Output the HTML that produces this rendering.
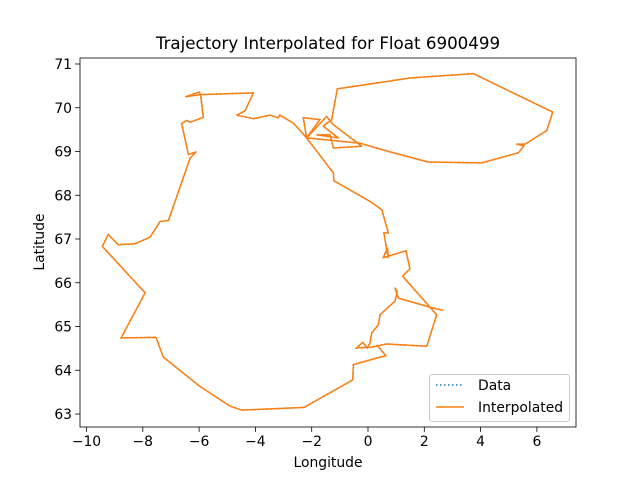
<!DOCTYPE html>
<html><head><meta charset="utf-8"><style>
html,body{margin:0;padding:0;background:#fff;}
svg{display:block;font-family:"DejaVu Sans","Liberation Sans",sans-serif;}
</style></head><body>
<svg id="chart" width="640" height="480" viewBox="0 0 640 480" xmlns="http://www.w3.org/2000/svg">
<rect width="640" height="480" fill="#fff"/>
<text x="328" y="49" font-size="16.7" text-anchor="middle">Trajectory Interpolated for Float 6900499</text>
<g id="plot"></g>
<g id="axes"></g>
<text x="328" y="467" font-size="13.9" text-anchor="middle">Longitude</text>
<text transform="translate(44,242) rotate(-90)" font-size="13.9" text-anchor="middle">Latitude</text>
<g>
<rect x="429.5" y="374.5" width="140" height="47" rx="3" fill="#fff" fill-opacity="0.8" stroke="#ccc"/>
<line x1="436" y1="385" x2="464" y2="385" stroke="#1f77b4" stroke-width="1.5" stroke-dasharray="1.5,2.5"/>
<text x="478" y="390" font-size="13.9">Data</text>
<line x1="436" y1="407" x2="464" y2="407" stroke="#ff7f0e" stroke-width="1.5"/>
<text x="478" y="412" font-size="13.9">Interpolated</text>
</g>
</svg>
<script>
const lon = [0.31,0.64,0.43,-0.52,-0.54,-2.27,-4.49,-4.90,-5.97,-7.27,-7.53,-8.77,-7.92,-9.44,-9.23,-8.87,-8.28,-7.74,-7.39,-7.09,-6.32,-6.11,-6.38,-6.62,-6.44,-6.32,-5.85,-5.94,-5.99,-6.48,-5.97,-4.07,-4.37,-4.66,-4.07,-3.48,-3.19,-3.13,-2.65,-2.18,
-2.30,-1.71,-2.18,-1.47,-1.23,-0.22,-1.23,-1.35,-1.82,-1.06,-1.59,-1.29,-1.09,1.49,3.74,6.56,6.35,5.58,5.28,5.54,5.34,4.04,2.14,0.78,-0.28,-2.18,
-1.23,-1.21,0.07,0.49,0.72,0.57,0.66,0.72,0.69,0.54,0.72,1.35,1.49,1.23,2.44,2.09,0.66,0.13,-0.40,-0.19,-0.02,0.07,0.13,0.37,0.43,0.96,1.04,0.96,1.08,2.32,2.67];
const lat = [64.58,64.33,64.30,64.13,63.78,63.15,63.09,63.18,63.63,64.30,64.75,64.74,65.77,66.83,67.10,66.87,66.89,67.04,67.40,67.42,68.85,68.99,68.93,69.64,69.71,69.67,69.78,70.26,70.36,70.25,70.30,70.34,69.93,69.83,69.75,69.83,69.77,69.83,69.65,69.31,
69.77,69.73,69.31,69.80,69.61,69.12,69.08,69.38,69.38,69.31,69.58,69.73,70.43,70.68,70.78,69.90,69.48,69.17,69.17,69.13,68.97,68.74,68.76,68.99,69.19,69.31,
68.51,68.33,67.86,67.67,67.14,67.14,66.76,66.57,66.79,66.57,66.61,66.73,66.32,66.15,65.27,64.55,64.60,64.53,64.51,64.64,64.51,64.62,64.85,65.04,65.27,65.58,65.79,65.88,65.65,65.42,65.37];
const xTicks = [-10,-8,-6,-4,-2,0,2,4,6];
const yTicks = [63,64,65,66,67,68,69,70,71];

const L=80,R=576,T=58,B=427;
const xs = v => 368 + v*28.15;
const ys = v => 64 + (71-v)*43.75;
const NS="http://www.w3.org/2000/svg";
const plot=document.getElementById('plot'), axes=document.getElementById('axes');
function mk(tag,attrs,parent){const e=document.createElementNS(NS,tag);for(const k in attrs)e.setAttribute(k,attrs[k]);parent.appendChild(e);return e;}

const pts = lon.map((v,i)=>xs(v).toFixed(1)+','+ys(lat[i]).toFixed(1)).join(' ');
const dataLine = mk('polyline',{points:pts,fill:'none',stroke:'#1f77b4','stroke-width':1.5,'stroke-dasharray':'1.5,2.5'},plot);


const interpLine = mk('polyline',{points:pts,fill:'none',stroke:'#ff7f0e','stroke-width':1.5,'stroke-linejoin':'round'},plot);



const frame = mk('rect',{x:L,y:T,width:R-L,height:B-T,fill:'none',stroke:'#000','stroke-width':0.8},axes);



xTicks.forEach(t=>{
  const x=xs(t);
  const tk=mk('line',{x1:x,y1:B,x2:x,y2:B+4.9,stroke:'#000','stroke-width':0.8},axes);
  
  
  const lb=mk('text',{x:x,y:B+19,'font-size':13.9,'text-anchor':'middle'},axes);
  lb.textContent = t<0 ? '\u2212'+Math.abs(t) : String(t);
  
  
});
yTicks.forEach(t=>{
  const y=ys(t);
  const tk=mk('line',{x1:L-4.9,y1:y,x2:L,y2:y,stroke:'#000','stroke-width':0.8},axes);
  
  
  const lb=mk('text',{x:L-8,y:y+5,'font-size':13.9,'text-anchor':'end'},axes);
  lb.textContent = String(t);
  
  
});
</script>
</body></html>
